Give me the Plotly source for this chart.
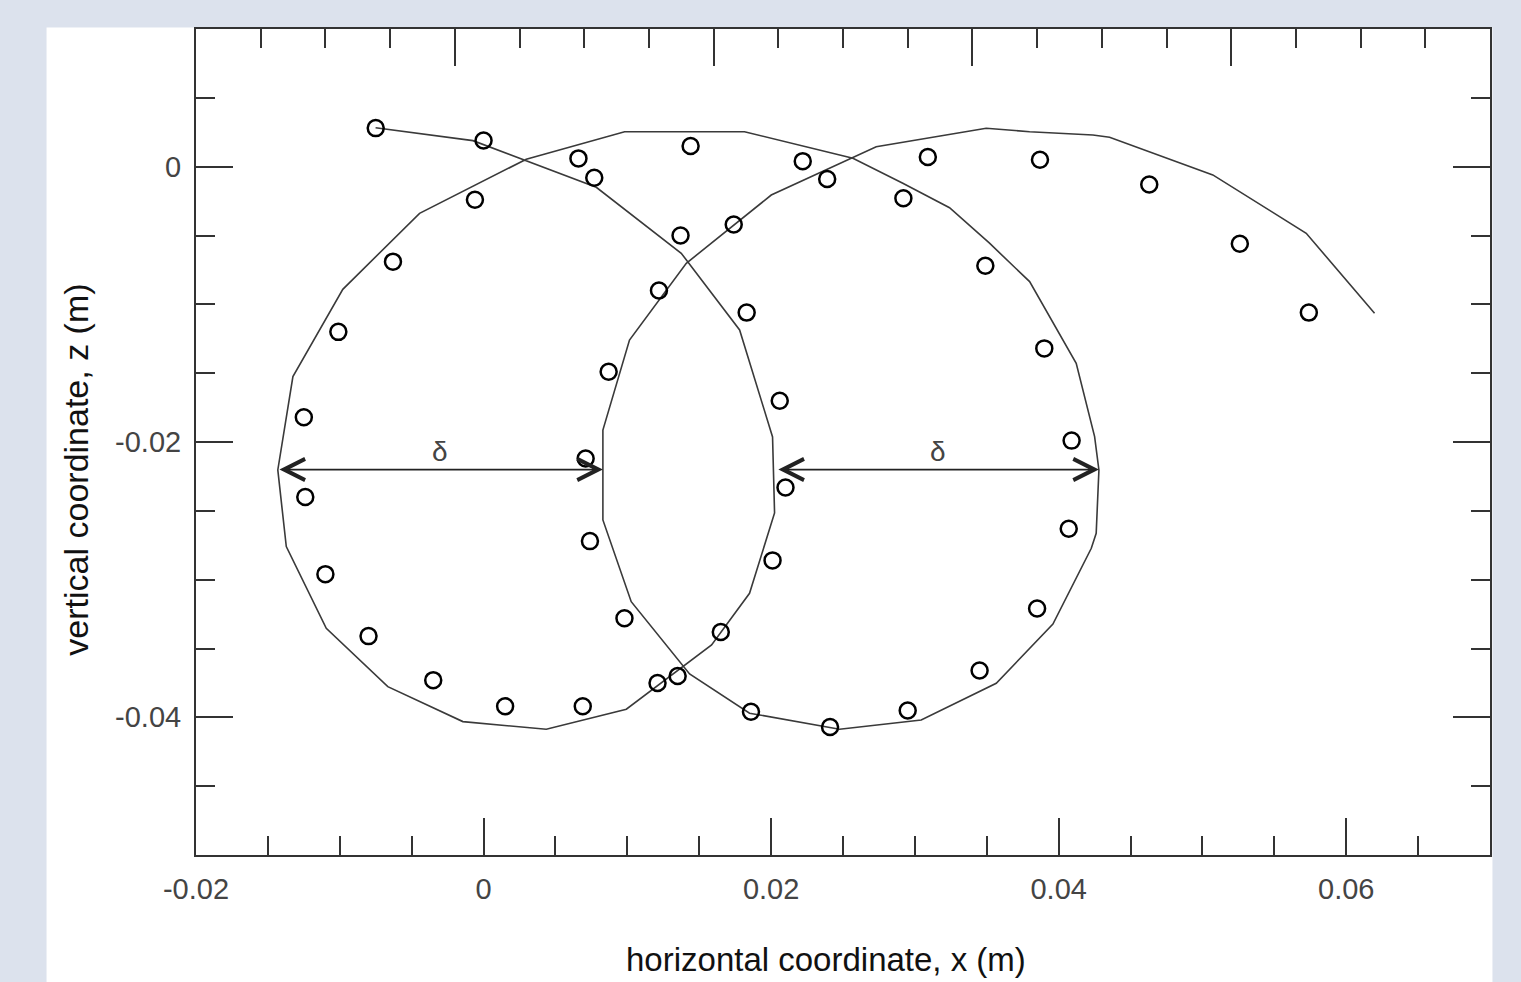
import numpy as np
import plotly.graph_objects as go

# ---------------- data (metres) ----------------
# measured particle positions (open circles)
x_meas = [-0.0075, 0.0000, 0.0077, 0.0137, 0.0183, 0.0206, 0.0210, 0.0201, 0.0165, 0.0121,
          0.0069, 0.0015, -0.0035, -0.0080, -0.0110, -0.0124, -0.0125, -0.0101, -0.0063, -0.0006,
          0.0066, 0.0144, 0.0222, 0.0292, 0.0349, 0.0390, 0.0409, 0.0407, 0.0385, 0.0345,
          0.0295, 0.0241, 0.0186, 0.0135, 0.0098, 0.0074, 0.0071, 0.0087, 0.0122, 0.0174,
          0.0239, 0.0309, 0.0387, 0.0463, 0.0526, 0.0574]
z_meas = [0.0028, 0.0019, -0.0008, -0.0050, -0.0106, -0.0170, -0.0233, -0.0286, -0.0338, -0.0375,
          -0.0392, -0.0392, -0.0373, -0.0341, -0.0296, -0.0240, -0.0182, -0.0120, -0.0069, -0.0024,
          0.0006, 0.0015, 0.0004, -0.0023, -0.0072, -0.0132, -0.0199, -0.0263, -0.0321, -0.0366,
          -0.0395, -0.0407, -0.0396, -0.0370, -0.0328, -0.0272, -0.0212, -0.0149, -0.0090, -0.0042,
          -0.0009, 0.0007, 0.0005, -0.0013, -0.0056, -0.0106]

# model trajectory (solid line)
x_model = [-0.00751, -0.00074, 0.00784, 0.01375, 0.01781, 0.02010, 0.02024, 0.01850, 0.01586, 0.00993,
           0.00436, -0.00144, -0.00666, -0.01094, -0.01372, -0.01431, -0.01326, -0.00979, -0.00445, 0.00297,
           0.00981, 0.01815, 0.02569, 0.02916, 0.03241, 0.03519, 0.03798, 0.04122, 0.04250, 0.04280,
           0.04261, 0.04227, 0.03960, 0.03566, 0.03044, 0.02476, 0.01850, 0.01433, 0.01027, 0.00830,
           0.00830, 0.01015, 0.01410, 0.01758, 0.02001, 0.02731, 0.03496, 0.03798, 0.04238, 0.04354,
           0.05072, 0.05722, 0.06197]
z_model = [0.00283, 0.00189, -0.00150, -0.00629, -0.01186, -0.01963, -0.02515, -0.03099, -0.03474, -0.03941,
           -0.04087, -0.04031, -0.03777, -0.03353, -0.02760, -0.02203, -0.01525, -0.00891, -0.00339, 0.00054,
           0.00254, 0.00254, 0.00061, -0.00121, -0.00298, -0.00556, -0.00835, -0.01428, -0.01961, -0.02203,
           -0.02663, -0.02772, -0.03322, -0.03753, -0.04019, -0.04087, -0.03970, -0.03685, -0.03160, -0.02566,
           -0.01913, -0.01259, -0.00702, -0.00411, -0.00206, 0.00145, 0.00279, 0.00254, 0.00230, 0.00214,
           -0.00060, -0.00484, -0.01065]

# delta (orbit diameter) arrows
delta_z = -0.0220
delta_left = [-0.0143, 0.0083]
delta_right = [0.0204, 0.0428]
delta_label_z = -0.0207
delta_label = "δ"

# tick labels
x_tick_vals = [-0.02, 0.0, 0.02, 0.04, 0.06]
x_tick_text = ["-0.02", "0", "0.02", "0.04", "0.06"]
y_tick_vals = [-0.04, -0.02, 0.0]
y_tick_text = ["-0.04", "-0.02", "0"]
x_range = [-0.02, 0.07]
y_range = [-0.05, 0.01]
top_range = [0, 20]
top_major = [4, 8, 12, 16]

x_title = "horizontal coordinate, x (m)"
y_title = "vertical coordinate, z (m)"

# ---------------- styling ----------------
AX = "#333333"
FONT = "Liberation Sans, Arial, sans-serif"
x_minor = list(np.round(np.arange(-0.02, 0.0701, 0.005), 4))
y_minor = list(np.round(np.arange(-0.05, 0.0101, 0.005), 4))
top_minor = list(range(0, 21))

fig = go.Figure()
fig.add_trace(go.Scatter(x=x_model, y=z_model, mode="lines",
                         line=dict(color="#3a3a3a", width=1.6),
                         showlegend=False, hoverinfo="skip"))
fig.add_trace(go.Scatter(x=x_meas, y=z_meas, mode="markers",
                         marker=dict(symbol="circle-open", size=16, color="black",
                                     line=dict(color="black", width=2.5)),
                         showlegend=False))
# empty trace to instantiate the mirrored top/right axes
fig.add_trace(go.Scatter(x=[], y=[], xaxis="x2", yaxis="y2", showlegend=False))

common_tick = dict(ticks="inside", tickwidth=2, tickcolor=AX, showline=True, linewidth=2,
                   linecolor=AX, showgrid=False, zeroline=False, automargin=False)

fig.update_layout(
    width=1521, height=982,
    margin=dict(l=196, r=31, t=29, b=127),
    paper_bgcolor="#dce2ed",
    plot_bgcolor="white",
    font=dict(family=FONT),
    xaxis=dict(range=x_range, tickmode="array", tickvals=x_tick_vals, ticktext=x_tick_text,
               ticklen=37,
               minor=dict(tickmode="array", tickvals=x_minor, ticks="inside", ticklen=19,
                          tickwidth=2, tickcolor=AX),
               tickfont=dict(size=29, color="#444444"), ticklabelstandoff=7,
               **common_tick),
    yaxis=dict(range=y_range, tickmode="array", tickvals=y_tick_vals, ticktext=y_tick_text,
               ticklen=37,
               minor=dict(tickmode="array", tickvals=y_minor, ticks="inside", ticklen=19,
                          tickwidth=2, tickcolor=AX),
               tickfont=dict(size=29, color="#444444"), ticklabelstandoff=7,
               **common_tick),
    xaxis2=dict(range=top_range, overlaying="x", side="top", anchor="y2",
                tickmode="array", tickvals=top_major, ticklen=37, showticklabels=False,
                minor=dict(tickmode="array", tickvals=top_minor, ticks="inside", ticklen=19,
                           tickwidth=2, tickcolor=AX),
                **common_tick),
    yaxis2=dict(range=y_range, overlaying="y", side="right", anchor="x2",
                tickmode="array", tickvals=y_tick_vals, ticklen=37, showticklabels=False,
                minor=dict(tickmode="array", tickvals=y_minor, ticks="inside", ticklen=19,
                           tickwidth=2, tickcolor=AX),
                **common_tick),
    shapes=[dict(type="rect", xref="paper", yref="paper", x0=-0.1155, x1=1.0019,
                 y0=-0.17, y1=1.0018, fillcolor="white", line=dict(width=0), layer="below")],
)

# axis titles (placed as in the reference, slightly off-centre)
fig.add_annotation(text=x_title, xref="paper", yref="paper", x=0.4865, y=-0.1265,
                   xanchor="center", yanchor="middle", showarrow=False, borderpad=0,
                   font=dict(size=33, color="#111111", family=FONT))
fig.add_annotation(text=y_title, xref="paper", yref="paper", x=-0.0923, y=0.466,
                   xanchor="center", yanchor="middle", showarrow=False, textangle=-90,
                   font=dict(size=34, color="#111111", family=FONT))

# delta arrows (double headed) and labels
for (xa, xb) in (delta_left, delta_right):
    fig.add_annotation(x=xb, y=delta_z, ax=xa, ay=delta_z, xref="x", yref="y",
                       axref="x", ayref="y", text="", showarrow=True,
                       arrowhead=5, startarrowhead=5, arrowside="end+start",
                       arrowsize=2.3, startarrowsize=2.3, arrowwidth=1.8,
                       arrowcolor="#222222", standoff=0, startstandoff=0)
    fig.add_annotation(x=(xa + xb) / 2, y=delta_label_z, xref="x", yref="y",
                       text=delta_label, showarrow=False, yanchor="middle",
                       font=dict(size=28, color="#444444", family=FONT))

fig.write_html("out.html", config={"displayModeBar": False},
               post_script="document.body.style.margin='0';document.body.style.overflow='hidden';")
